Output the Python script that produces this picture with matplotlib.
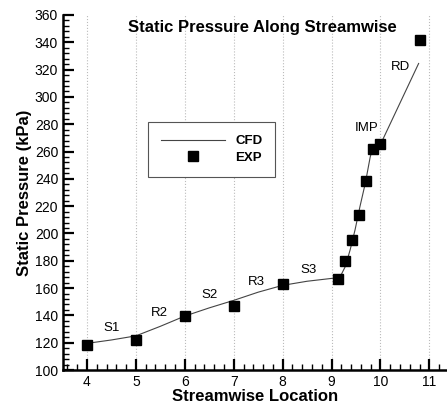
import matplotlib
matplotlib.use("Agg")
import matplotlib.pyplot as plt
from matplotlib.ticker import MultipleLocator

plt.rcParams['font.family'] = ['Liberation Sans', 'DejaVu Sans']

# CFD static pressure along the streamwise direction
cfd_x = [4.0, 4.5, 5.0, 5.5, 6.0, 6.5, 7.0, 7.5, 8.0, 8.5, 9.1, 9.2, 9.28, 9.38,
         9.48, 9.58, 9.69, 9.79, 9.85, 9.95, 10.05, 10.78]
cfd_p = [119.5, 122, 125, 132, 139.5, 145.5, 151, 157, 162, 165, 167.5, 170, 175.7, 188,
         202.6, 219.6, 236.8, 256, 263.5, 267, 269, 324.5]

# measured static pressure
exp_x = [4.0, 5.0, 6.0, 7.0, 8.0, 9.13, 9.28, 9.42, 9.56, 9.70, 9.84, 9.99, 10.80]
exp_p = [118.5, 122, 139.5, 147, 163, 167, 180, 195, 213.5, 238.5, 262, 265.5, 342]

# component labels
region_names = ['S1', 'R2', 'S2', 'R3', 'S3', 'IMP', 'RD']
region_x = [4.5, 5.49, 6.5, 7.47, 8.53, 9.72, 10.4]
region_p = [130.8, 142, 155, 164.2, 173, 277, 322]

fig = plt.figure(figsize=(4.47, 4.07), dpi=100)
ax = fig.add_axes([63 / 447, 1 - 370 / 407, 1 - 63 / 447, 355 / 407])

ax.plot(cfd_x, cfd_p, color='#444444', lw=0.8, label='CFD')
ax.plot(exp_x, exp_p, 's', color='black', ms=6.8, label='EXP', zorder=3)

for name, x, p in zip(region_names, region_x, region_p):
    ax.text(x, p, name, fontsize=9.5, ha='center', va='center')

ax.text(0.52, 0.985, 'Static Pressure Along Streamwise', transform=ax.transAxes,
        fontsize=12, fontweight='bold', ha='center', va='top')

ax.set_xlim(3.51, 11.36)
ax.set_ylim(100, 360)
ax.xaxis.set_major_locator(MultipleLocator(1))
ax.xaxis.set_minor_locator(MultipleLocator(0.2))
ax.yaxis.set_major_locator(MultipleLocator(20))
ax.yaxis.set_minor_locator(MultipleLocator(4))
ax.tick_params(which='both', direction='in', width=1.0, labelsize=10)
ax.tick_params(which='major', length=8, width=1.6)
ax.tick_params(which='minor', length=4)
ax.grid(axis='x', which='major', ls=':', color='#bbbbbb', lw=0.8)

for side in ['top', 'right']:
    ax.spines[side].set_visible(False)
for side in ['left', 'bottom']:
    ax.spines[side].set_linewidth(1.8)

ax.set_xlabel('Streamwise Location', fontsize=12, fontweight='bold', labelpad=0)
ax.set_ylabel('Static Pressure (kPa)', fontsize=12, fontweight='bold', labelpad=2)

leg = ax.legend(loc='upper left', bbox_to_anchor=(148 / 447, 1 - 122 / 407),
                bbox_transform=fig.transFigure, borderaxespad=0, fancybox=False,
                framealpha=1, edgecolor='#555555', handlelength=4.8,
                handletextpad=0.8, borderpad=1.0, labelspacing=0.3,
                prop={'weight': 'bold', 'size': 9.5})
leg.get_frame().set_linewidth(0.8)

fig.savefig('out.png', dpi=100)
